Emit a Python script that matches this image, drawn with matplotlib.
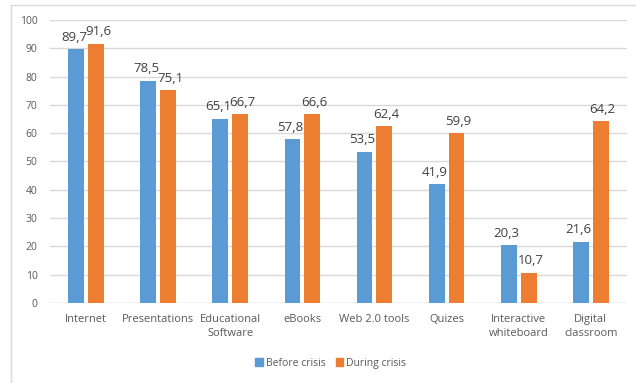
import numpy as np
import matplotlib.pyplot as plt
from matplotlib.lines import Line2D
from matplotlib.patches import Patch

# Tool usage (%) before and during the crisis
categories = ["Internet", "Presentations", "Educational\nSoftware", "eBooks",
              "Web 2.0 tools", "Quizes", "Interactive\nwhiteboard", "Digital\nclassroom"]
before_crisis = [89.7, 78.5, 65.1, 57.8, 53.5, 41.9, 20.3, 21.6]
during_crisis = [91.6, 75.1, 66.7, 66.6, 62.4, 59.9, 10.7, 64.2]

BLUE = "#5B9BD5"
ORANGE = "#ED7D31"
GREY_TEXT = "#595959"
GRID = "#D9D9D9"

plt.rcParams['font.family'] = ['Open Sans', 'DejaVu Sans']

fig = plt.figure(figsize=(6.36, 3.83), dpi=100)
ax = fig.add_axes([0.0786, 0.209, 0.907, 0.739])

x = np.arange(len(categories))
width = 0.22
gap = 0.055
off = (width + gap) / 2

bars_b = ax.bar(x - off, before_crisis, width, color=BLUE, zorder=3)
bars_d = ax.bar(x + off, during_crisis, width, color=ORANGE, zorder=3)

# value labels with decimal comma, nudged apart a little
for bars, vals, dx in ((bars_b, before_crisis, -1.5), (bars_d, during_crisis, 1.5)):
    for b, v in zip(bars, vals):
        ax.annotate(f"{v:.1f}".replace(".", ","),
                    (b.get_x() + b.get_width() / 2, v),
                    xytext=(dx, 4), textcoords="offset points",
                    ha="center", va="bottom", fontsize=9.5, color="#404040")

ax.set_xlim(-0.5, len(categories) - 0.5)
ax.set_ylim(0, 100)
ax.set_yticks(np.arange(0, 101, 10))
ax.yaxis.grid(True, color=GRID, linewidth=1, zorder=0)
ax.set_axisbelow(True)
for s in ax.spines.values():
    s.set_visible(False)
ax.axhline(0, color=GRID, linewidth=1, zorder=2)

ax.set_xticks(x)
ax.set_xticklabels(categories, fontsize=8, color=GREY_TEXT, linespacing=1.4)
ax.tick_params(axis="x", length=0, pad=8)
ax.tick_params(axis="y", length=0, pad=9, labelsize=7.5, labelcolor=GREY_TEXT)

handles = [Patch(color=BLUE, label="Before crisis"),
           Patch(color=ORANGE, label="During crisis")]
fig.legend(handles=handles, loc="center", bbox_to_anchor=(0.52, 0.052), ncol=2,
           frameon=False, fontsize=7.5, labelcolor=GREY_TEXT,
           handlelength=0.7, handleheight=0.7, handletextpad=0.3, columnspacing=1.0)

# outer chart frame (left and top edges)
fig.add_artist(Line2D([11 / 636, 11 / 636], [0, 1 - 5 / 383], color="#D9D9D9", lw=1))
fig.add_artist(Line2D([11 / 636, 1], [1 - 5 / 383, 1 - 5 / 383], color="#D9D9D9", lw=1))

fig.savefig("out.png", dpi=100)
